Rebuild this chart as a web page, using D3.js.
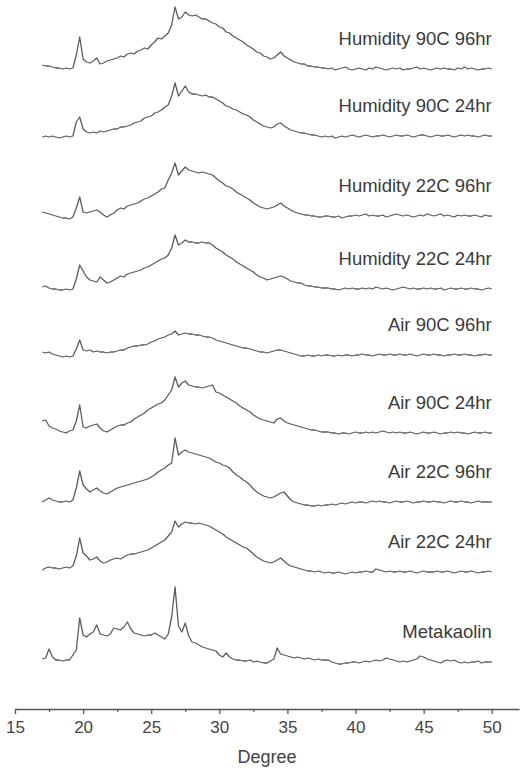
<!DOCTYPE html>
<html>
<head>
<meta charset="utf-8">
<script src="https://cdn.jsdelivr.net/npm/d3@7"></script>
<style>
  body { margin: 0; background: #fff; }
  svg { display: block; font-family: "Liberation Sans", Arial, sans-serif; }
</style>
</head>
<body>
<svg id="chart"></svg>
<script>
// sample names, top to bottom
const labels = [
  "Humidity 90C 96hr",
  "Humidity 90C 24hr",
  "Humidity 22C 96hr",
  "Humidity 22C 24hr",
  "Air 90C 96hr",
  "Air 90C 24hr",
  "Air 22C 96hr",
  "Air 22C 24hr",
  "Metakaolin"
];

// vertical offset of each pattern (intensity units)
const offsets = [631, 564, 484, 411, 345, 267, 198, 128, 38];

// scan: 17 to 50 degree, 0.25 step
const startDeg = 17;
const stepDeg = 0.25;

// intensities, one value per step
const hum90_96 = [
  4, 3, 3, 2, 1, 1, 0, 1, 0, 1, 14, 32, 10, 7, 6, 8,
  11, 5, 6, 8, 9, 10, 11, 13, 12, 15, 16, 15, 18, 19, 21, 20,
  24, 27, 31, 30, 33, 36, 44, 62, 50, 52, 57, 54, 53, 54, 52, 50,
  50, 48, 46, 45, 42, 41, 37, 36, 33, 31, 29, 27, 24, 22, 20, 17,
  16, 13, 12, 10, 11, 14, 17, 13, 11, 9, 7, 6, 5, 5, 3, 3,
  2, 2, 1, 1,
  0, 1, -1, 0, 1, 2, 0, -1, 0, 1, 0, -1, 1, 0, 2, 1, 0, -1, 0, 1,
  0, 1, -1, 0, 0, 1, 2, 0, 1, 0, -1, 0, 1, 0, 1, 0, 0, -1, 1, 0,
  2, 0, 1, 0, -1, 0, 0, 1, 0
];
const hum90_24 = [
  -1, 0, -1, 0, -1, -2, -1, 0, -1, 0, 14, 19, 7, 4, 3, 4,
  3, 5, 4, 5, 6, 7, 7, 9, 9, 10, 11, 13, 14, 15, 18, 19,
  20, 23, 24, 26, 29, 31, 40, 53, 40, 45, 50, 44, 42, 42, 41, 40,
  41, 39, 39, 37, 35, 33, 30, 29, 27, 26, 24, 22, 21, 19, 16, 14,
  12, 10, 9, 8, 9, 12, 13, 10, 8, 6, 5, 4, 3, 3, 2, 1,
  1, 0, -1, 0,
  -1, 0, -2, -1, 0, -1, 0, 1, 0, -1, 0, 1, 0, -1, 0, 0, 1, 0, -1, 0,
  1, 0, 0, 1, 0, -1, 0, 1, 1, 0, -1, 0, 1, 0, 0, 1, 0, -1, 0, 1,
  0, 1, 0, 0, -1, 0, 1, 0, 0
];
const hum22_96 = [
  4, 3, 2, 1, 0, -1, -2, -2, -3, -1, 8, 19, 4, 3, 4, 5,
  6, 4, 1, -1, 1, 3, 6, 8, 7, 10, 11, 12, 13, 15, 17, 18,
  20, 22, 24, 27, 28, 36, 43, 53, 41, 45, 49, 46, 45, 44, 43, 44,
  43, 42, 41, 38, 35, 33, 30, 29, 27, 24, 22, 20, 18, 16, 13, 11,
  9, 8, 7, 8, 9, 11, 13, 10, 8, 6, 4, 3, 2, 1, 1, 0,
  0, -1, -1, 0,
  0, -1, -1, 0, -2, -1, 0, 0, 1, 0, 1, 2, 0, 1, 0, 0, 1, -1, 0, 1,
  2, 1, 0, 1, 0, -1, 0, 1, 0, 2, 1, 0, 1, 2, 0, 1, 0, -1, 1, 0,
  1, 0, 0, 1, 0, -1, 1, 0, 0
];
const hum22_24 = [
  2, 3, 1, 0, 0, -1, -1, 0, -1, 0, 10, 24, 18, 12, 9, 8,
  7, 12, 9, 6, 7, 9, 11, 13, 12, 15, 16, 17, 18, 19, 21, 22,
  24, 26, 28, 30, 31, 34, 41, 54, 44, 46, 49, 47, 47, 46, 46, 47,
  46, 46, 44, 41, 39, 37, 34, 32, 30, 27, 25, 23, 21, 19, 17, 14,
  12, 11, 9, 10, 11, 12, 13, 12, 10, 8, 7, 6, 6, 4, 3, 3,
  2, 2, 1, 1,
  1, 0, 0, -1, 0, 1, 0, 1, 0, 0, 1, 0, 1, 0, 2, 1, 0, 1, 0, -1,
  0, 1, 2, 1, 0, 1, 0, 0, 1, 0, 1, 0, 0, 1, -1, 0, 1, 0, 0, 1,
  0, 0, 1, 0, 0, -1, 0, 1, 0
];
const air90_96 = [
  3, 2, 3, 1, 0, -1, -2, -1, -2, -1, 6, 15, 5, 4, 5, 3,
  4, 3, 3, 2, 3, 3, 4, 5, 5, 7, 8, 9, 9, 10, 10, 11,
  13, 14, 16, 17, 18, 20, 21, 24, 20, 21, 22, 21, 21, 20, 20, 19,
  18, 18, 17, 15, 14, 13, 12, 11, 10, 9, 8, 7, 7, 6, 5, 4,
  3, 3, 2, 3, 4, 5, 5, 4, 3, 2, 1, 0, -1, -1, 0, -1,
  -1, 0, -1, 0,
  0, -1, -1, 0, -1, 0, 0, -1, 0, 0, 1, 0, 0, -1, 0, 1, 0, 0, 1, 0,
  0, 1, 0, 0, 1, 0, -1, 0, 1, 0, 0, 1, 0, 0, -1, 0, 0, 1, 0, 0,
  1, 0, 0, -1, 0, 0, 1, 0, 0
];
const air90_24 = [
  12, 13, 7, 5, 4, 2, 1, 0, 2, 3, 12, 28, 6, 5, 7, 8,
  9, 5, 2, 1, 3, 5, 7, 8, 8, 10, 11, 14, 16, 18, 20, 23,
  25, 27, 29, 30, 33, 38, 43, 56, 46, 50, 52, 48, 47, 46, 46, 45,
  46, 47, 48, 41, 40, 38, 36, 34, 32, 30, 27, 25, 23, 21, 18, 16,
  14, 13, 12, 11, 10, 14, 15, 12, 10, 9, 8, 7, 6, 5, 4, 3,
  3, 2, 1, 1,
  1, 0, 0, -1, 0, 0, -1, 0, 1, 0, 0, 1, 0, 1, 0, 1, 2, 1, 0, 1,
  0, 1, 0, 0, 1, 0, -1, 0, 1, 0, 0, 1, 0, -1, 0, 0, 1, 0, 1, 0,
  0, -1, 0, 1, 0, 0, 1, 0, 0
];
const air22_96 = [
  0, 2, 4, 2, 1, 0, 0, 1, 0, 2, 14, 31, 17, 13, 10, 12,
  14, 11, 9, 8, 10, 12, 14, 15, 16, 17, 18, 19, 20, 21, 22, 23,
  25, 27, 30, 32, 34, 37, 39, 64, 47, 50, 52, 50, 49, 48, 47, 46,
  45, 44, 42, 40, 39, 37, 36, 34, 30, 27, 25, 22, 20, 17, 13, 10,
  8, 6, 5, 4, 5, 7, 9, 10, 6, 2, 0, -1, -2, -3, -3, -4,
  -4, -3, -4, -3,
  -3, -2, -3, -2, -1, -2, -1, 0, -1, 0, 0, -1, 0, 1, 0, 1, 0, 0, -1, 0,
  1, 0, 0, 1, 0, -1, 0, 0, 1, 0, 0, 1, 0, 0, -1, 0, 1, 0, 0, 1,
  0, 0, -1, 0, 1, 0, 0, 0, 0
];
const air22_24 = [
  2, 4, 5, 4, 4, 3, 4, 5, 4, 6, 16, 34, 19, 16, 12, 13,
  15, 11, 9, 10, 12, 13, 14, 13, 15, 17, 18, 18, 19, 20, 21, 22,
  24, 26, 28, 30, 32, 36, 40, 51, 45, 48, 50, 49, 49, 48, 49, 48,
  47, 46, 44, 42, 40, 38, 35, 33, 31, 29, 27, 25, 24, 21, 18, 15,
  13, 11, 10, 9, 10, 12, 14, 11, 8, 6, 5, 4, 3, 2, 1, 1,
  0, 1, 0, -1,
  0, -1, -1, 0, -1, -2, -1, 0, -1, 0, 0, 1, 0, 0, 3, 2, 1, 0, 1, 0,
  0, 1, 0, 0, 1, 0, -1, 0, 1, 0, 0, 0, 1, 0, 0, 1, 0, -1, 0, 1,
  0, 0, 1, 0, -1, 0, 0, 1, 0
];
const metakaolin = [
  3, 4, 13, 5, 2, 2, 1, 2, 2, 7, 12, 44, 27, 25, 28, 30,
  37, 28, 27, 26, 28, 34, 33, 32, 35, 40, 33, 29, 28, 27, 26, 27,
  27, 29, 27, 25, 23, 28, 45, 75, 36, 30, 39, 26, 20, 19, 17, 15,
  14, 13, 12, 11, 7, 5, 9, 5, 3, 2, 2, 1, 1, 2, 0, 1,
  0, -1, -1, 1, 3, 14, 8, 7, 6, 5, 4, 5, 4, 3, 4, 3,
  2, 3, 2, 2,
  2, 0, -1, -2, -2, -1, -1, 0, 0, -1, 0, 1, 0, 1, 2, 1, 2, 4, 3, 2,
  1, 0, 1, 0, 1, 2, 3, 6, 5, 3, 2, 1, 0, -1, 1, 2, 1, 2, 0, -1,
  0, -1, 0, 0, 1, -1, 0, 0, 0
];

const patterns = [
  hum90_96, hum90_24, hum22_96, hum22_24,
  air90_96, air90_24, air22_96, air22_24, metakaolin
];

const majorTicks = [15, 20, 25, 30, 35, 40, 45, 50];
const minorTicks = [17.5, 22.5, 27.5, 32.5, 37.5, 42.5, 47.5];
const xTitle = "Degree";

const width = 523;
const height = 770;

const svg = d3.select("#chart").attr("width", width).attr("height", height);

const x = d3.scaleLinear().domain([15, 52]).range([15, 519]);
const y = d3.scaleLinear().domain([0, 700]).range([700, 0]);

const line = d3
  .line()
  .x((d, i) => x(startDeg + i * stepDeg))
  .y((d) => y(d));

// patterns
svg
  .append("g")
  .selectAll("path")
  .data(patterns)
  .enter()
  .append("path")
  .attr("d", (d, k) => line(d.map((v) => v + offsets[k])))
  .attr("fill", "none")
  .attr("stroke", "#5c5c5c")
  .attr("stroke-width", 1.3)
  .attr("stroke-linejoin", "round");

// sample labels, right aligned at 50 degree
svg
  .append("g")
  .selectAll("text")
  .data(labels)
  .enter()
  .append("text")
  .attr("x", x(50))
  .attr("y", (d, k) => y(offsets[k] + 30))
  .attr("dy", "0.35em")
  .attr("text-anchor", "end")
  .attr("font-size", 18.5)
  .attr("fill", "#3a3a3a")
  .text((d) => d);

// x axis
const axisY = 709;

const xAxis = svg
  .append("g")
  .attr("transform", `translate(0,${axisY})`)
  .call(
    d3.axisBottom(x).tickValues(majorTicks).tickSize(5).tickSizeOuter(0)
  );

xAxis.select(".domain").attr("stroke", "#555").attr("stroke-width", 1.3);
xAxis.selectAll(".tick line").attr("stroke", "#555").attr("stroke-width", 1.3);
xAxis
  .selectAll(".tick text")
  .attr("font-size", 17)
  .attr("fill", "#444")
  .attr("dy", "0.95em")
  .style("font-family", "'Liberation Sans', Arial, sans-serif");

const minorAxis = svg
  .append("g")
  .attr("transform", `translate(0,${axisY})`)
  .call(
    d3.axisBottom(x).tickValues(minorTicks).tickSize(3).tickFormat("")
  );
minorAxis.select(".domain").remove();
minorAxis.selectAll(".tick line").attr("stroke", "#555").attr("stroke-width", 1.2);

svg
  .append("text")
  .attr("x", (x.range()[0] + x.range()[1]) / 2)
  .attr("y", 763)
  .attr("text-anchor", "middle")
  .attr("font-size", 18)
  .attr("fill", "#444")
  .text(xTitle);
</script>
</body>
</html>
